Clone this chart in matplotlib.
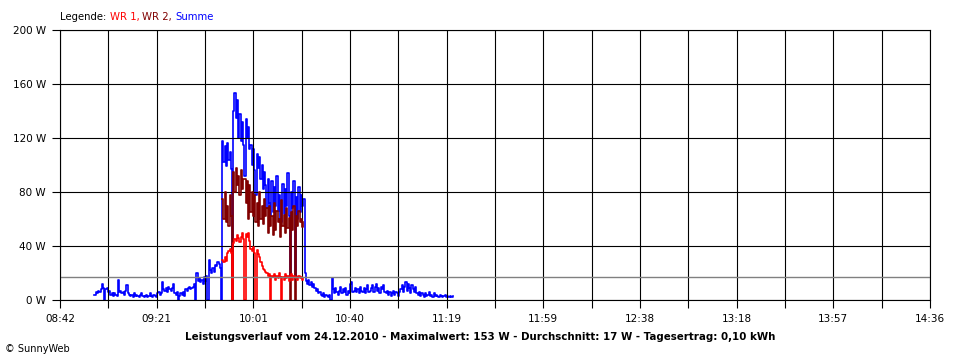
import numpy as np
import matplotlib
matplotlib.use("Agg")
import matplotlib.pyplot as plt

# time axis in minutes after midnight
t_start = 522   # 08:42
t_end = 876     # 14:36
time_labels = ["08:42", "09:21", "10:01", "10:40", "11:19",
               "11:59", "12:38", "13:18", "13:57", "14:36"]

step = 0.5          # minutes between samples
summe_start = 536.0  # 08:56
wr_start = 588.0     # 09:48
durchschnitt = 17

# Summe (W)
summe = [4, 6, 5, 7, 6, 8, 12, 9, 0, 8, 9, 6, 7, 4, 5, 3, 5, 4, 3, 15, 6,
         7, 5, 6, 4, 7, 11, 5, 4,
         3, 4, 2, 5, 3, 4, 3, 2, 4, 5, 3, 2, 3, 4, 2, 3, 5, 3, 2, 4, 3, 2,
         5, 6, 4, 5, 13, 8, 7, 9, 6, 10, 8, 7, 9, 12,
         5, 4, 6, 0, 3, 5, 4, 6, 3, 8, 7, 9, 10, 8, 9, 10, 12, 0, 20,
         14, 16, 13, 15, 12, 17, 14, 18, 0, 30, 22, 20, 24, 21,
         26, 25, 28, 27, 24, 0,
         118, 102, 114, 99, 116, 104, 110, 97, 0,
         140, 153, 135, 148, 120, 138, 118, 132, 115, 92,
         134, 120, 128, 112, 115, 100, 112, 96, 78, 108, 98,
         106, 90, 100, 82, 95,
         85, 68, 90, 72, 62, 88, 65, 84, 70, 92, 66, 78, 60, 58, 86, 64,
         82, 70, 94, 62, 17, 80, 68, 88, 16, 76, 60, 84, 65, 78, 70, 75,
         20, 14, 12, 15, 11, 13, 10,
         12, 9, 7, 8, 5, 6, 4, 3, 5, 2, 4, 3, 2, 4, 0, 16,
         8, 5, 9, 6, 4, 7, 10, 5, 8, 6, 9, 4, 7, 5, 12, 13, 6,
         7, 9, 6, 8, 5, 10, 7, 6, 9, 5, 8, 11, 6, 7,
         9, 11, 6, 10, 12, 7, 9, 5, 10, 8, 11, 6,
         5, 7, 4, 6, 3, 5, 7, 4, 6, 5, 3, 6,
         8, 11, 6, 10, 13, 7, 12, 9, 5, 11, 8, 6, 10,
         5, 4, 6, 3, 5, 4, 2, 5, 3, 4, 6, 3, 4, 2, 5, 3, 4, 3, 2, 4, 3, 2,
         3, 4, 2, 3, 2, 3, 2, 2, 3]

# WR 1 (W)
wr1 = [30, 28, 32, 29, 35, 36, 38, 35, 0,
       42, 45, 44, 48, 46, 43, 47, 50, 45, 0,
       49, 47, 50, 44, 38, 36, 39, 35, 0, 37, 34,
       32, 28, 25, 23, 22, 21, 20, 18, 19, 0,
       18, 17, 19, 15, 18, 16, 20, 17, 0,
       17, 15, 19, 16, 18, 14, 17, 19, 15, 18, 16, 17, 15, 18, 16, 17, 15, 16]

# WR 2 (W)
wr2 = [75, 60, 80, 58, 70, 55, 78, 62, 0,
       95, 80, 98, 85, 92, 78, 96, 82, 90, 90,
       72, 88, 60, 85, 65, 80,
       62, 78, 58, 72, 55, 80, 60, 70, 56, 75, 62, 68,
       50, 70, 55, 62, 48, 72, 52, 66, 58, 60, 47, 74, 55, 63, 50, 68, 53, 61,
       0, 65, 52, 70, 0, 62, 55, 66, 58, 60, 54, 58]

fig = plt.figure(figsize=(9.6, 3.6), dpi=100)
ax = fig.add_axes([60 / 960, 60 / 360, 870 / 960, 270 / 360])

t_sum = summe_start + step * np.arange(len(summe))
t_wr = wr_start + step * np.arange(len(wr1))
ax.plot(t_sum, summe, color="#0000ff", lw=1.2, drawstyle="steps-post", zorder=2)
ax.plot(t_wr, wr2, color="#800000", lw=1.2, drawstyle="steps-post", zorder=3)
ax.plot(t_wr, wr1, color="#ff0000", lw=1.2, drawstyle="steps-post", zorder=4)
ax.axhline(durchschnitt, color="#808080", lw=1.0, zorder=6)

ax.set_xlim(t_start, t_end)
ax.set_ylim(0, 200)

n = len(time_labels)
ax.set_xticks(np.linspace(t_start, t_end, 2 * n - 1))
xl = []
for lab in time_labels:
    xl += [lab, ""]
ax.set_xticklabels(xl[:-1])
yt = np.arange(0, 201, 40)
ax.set_yticks(yt)
ax.set_yticklabels([f"{v} W" for v in yt])

ax.set_axisbelow(False)
ax.grid(True, color="black", lw=0.8, zorder=5)
for s in ax.spines.values():
    s.set_color("black")
    s.set_linewidth(0.8)
    s.set_zorder(7)
ax.tick_params(length=6, width=0.8, color="black", labelsize=7.5, pad=4)

# legend line with coloured parts
x = 60 / 960
y = 1 - 17 / 360
r = fig.canvas.get_renderer()
for txt, col in [("Legende: ", "black"), ("WR 1, ", "#ff0000"),
                 ("WR 2, ", "#800000"), ("Summe", "#0000ff")]:
    t = fig.text(x, y, txt, color=col, fontsize=7.3, va="center")
    bb = t.get_window_extent(renderer=r)
    x += bb.width / fig.bbox.width

fig.text(0.5, 1 - 337 / 360,
         "Leistungsverlauf vom 24.12.2010 - Maximalwert: 153 W - Durchschnitt: 17 W - Tagesertrag: 0,10 kWh",
         ha="center", va="center", fontsize=7.4, fontweight="bold")
fig.text(5 / 960, 1 - 349 / 360, "© SunnyWeb", fontsize=7, va="center")

fig.savefig("out.png", dpi=100, facecolor="white")
